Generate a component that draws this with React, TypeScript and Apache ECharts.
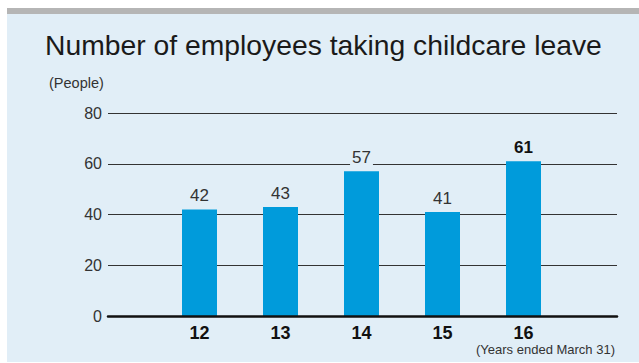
import React, { useEffect, useRef } from "react";
import * as echarts from "echarts";

const years = ["12", "13", "14", "15", "16"];
const employees = [42, 43, 57, 41, 61];
const highlightIndex = 4;
const yTicks = { min: 0, max: 80, interval: 20 };
const titleText = "Number of employees taking childcare leave";
const unitText = "(People)";
const noteText = "(Years ended March 31)";

const BG = "#e1eef7";
const FONT = "'Liberation Sans', Arial, Helvetica, sans-serif";

export default function App() {
  const ref = useRef<HTMLDivElement>(null);
  useEffect(() => {
    document.body.style.margin = "0";
    if (!ref.current) return;
    const chart = echarts.init(ref.current, null, { renderer: "svg" });
    chart.setOption({
      animation: false,
      textStyle: { fontFamily: FONT },
      graphic: [
        { type: "rect", z: -10, shape: { x: 7, y: 8, width: 632, height: 6 }, style: { fill: "#b5b5b5" } },
        { type: "rect", z: -10, shape: { x: 7, y: 14, width: 632, height: 348 }, style: { fill: BG } },
        {
          type: "text", left: 45, top: 31,
          style: { text: titleText, fontSize: 28.3, fill: "#1a1a1a", fontFamily: FONT },
        },
        {
          type: "text", left: 49, top: 75,
          style: { text: unitText, fontSize: 14.5, fill: "#333", fontFamily: FONT },
        },
        {
          type: "text", right: 24, top: 343,
          style: { text: noteText, fontSize: 13, fill: "#333", fontFamily: FONT },
        },
      ],
      grid: [
        { left: 108, top: 113, width: 509, height: 203 },
        { left: 159, top: 113, width: 405, height: 203 },
      ],
      xAxis: [
        {
          gridIndex: 0, type: "value", min: 0, max: 1, z: 5,
          axisLine: { show: true, onZero: false, lineStyle: { color: "#111", width: 2.5 } },
          axisTick: { show: false }, axisLabel: { show: false }, splitLine: { show: false },
        },
        {
          gridIndex: 1, type: "category", data: years,
          axisLine: { show: false }, axisTick: { show: false },
          axisLabel: { margin: 8, fontSize: 18, fontWeight: "bold", color: "#111", fontFamily: FONT },
        },
      ],
      yAxis: [
        {
          gridIndex: 0, type: "value", ...yTicks,
          axisLine: { show: false }, axisTick: { show: false },
          axisLabel: { margin: 6, fontSize: 16, color: "#333", fontFamily: FONT },
          splitLine: { lineStyle: { color: "#333", width: 1 } },
        },
        { gridIndex: 1, type: "value", ...yTicks, show: false, splitLine: { show: false } },
      ],
      series: [
        {
          type: "bar", xAxisIndex: 1, yAxisIndex: 1, barWidth: 35,
          itemStyle: { color: "#009bdb" },
          data: employees.map((v, i) =>
            i === highlightIndex
              ? { value: v, label: { fontWeight: "bold", color: "#111" } }
              : v
          ),
          label: {
            show: true, position: "top", distance: 5, fontSize: 17, color: "#333",
            fontFamily: FONT, backgroundColor: BG, padding: [0, 2],
          },
        },
      ],
    });
    return () => chart.dispose();
  }, []);
  return <div ref={ref} style={{ width: 639, height: 363 }} />;
}
